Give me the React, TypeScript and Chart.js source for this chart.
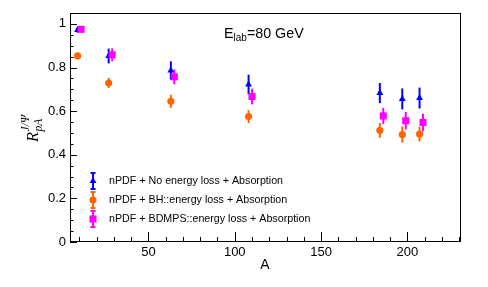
import React, { useEffect, useRef } from 'react';
import { Chart, registerables } from 'chart.js';

Chart.register(...registerables);

// ---- data ----
const massNumbers = [9, 27, 63, 108, 184, 197, 207];
const massNumbersShifted = [11, 29, 65, 110, 186, 199, 209];

const noLossValues = [0.972, 0.853, 0.786, 0.722, 0.683, 0.656, 0.66];
const noLossErrors = [0.012, 0.034, 0.042, 0.045, 0.046, 0.048, 0.048];

const bhValues = [0.853, 0.729, 0.645, 0.575, 0.512, 0.493, 0.495];
const bhErrors = [0.008, 0.023, 0.03, 0.03, 0.034, 0.037, 0.034];

const bdmpsValues = [0.975, 0.858, 0.757, 0.667, 0.578, 0.556, 0.548];
const bdmpsErrors = [0.01, 0.03, 0.034, 0.036, 0.037, 0.04, 0.04];

const seriesLabels = [
  'nPDF + No energy loss + Absorption',
  'nPDF + BH::energy loss + Absorption',
  'nPDF + BDMPS::energy loss + Absorption',
];

const xTickValues = [50, 100, 150, 200];
const yTickValues = [0, 0.2, 0.4, 0.6, 0.8, 1];

const SANS = '"Liberation Sans", Arial, Helvetica, sans-serif';
const SERIF = '"Liberation Serif", "Times New Roman", serif';

function drawMarker(ctx: CanvasRenderingContext2D, style: string, x: number, y: number, r: number) {
  ctx.beginPath();
  if (style === 'circle') {
    ctx.arc(x, y, r, 0, Math.PI * 2);
  } else if (style === 'rect') {
    const s = r * Math.SQRT1_2;
    ctx.rect(x - s, y - s, 2 * s, 2 * s);
  } else {
    ctx.moveTo(x, y - r);
    ctx.lineTo(x + r * Math.sin(Math.PI / 3), y + r * 0.5);
    ctx.lineTo(x - r * Math.sin(Math.PI / 3), y + r * 0.5);
    ctx.closePath();
  }
  ctx.fill();
}

const rootStyle = {
  id: 'rootStyle',
  beforeDatasetsDraw(chart: any) {
    const ctx = chart.ctx;
    const xs = chart.scales.x;
    const ys = chart.scales.y;
    ctx.save();
    chart.data.datasets.forEach((ds: any) => {
      ctx.strokeStyle = ds.borderColor;
      ctx.lineWidth = 2;
      ds.data.forEach((p: any, j: number) => {
        const e = ds.errors[j];
        const px = xs.getPixelForValue(p.x);
        ctx.beginPath();
        ctx.moveTo(px, ys.getPixelForValue(p.y - e));
        ctx.lineTo(px, ys.getPixelForValue(p.y + e));
        ctx.stroke();
      });
    });
    ctx.restore();
  },
  afterDraw(chart: any) {
    const ctx = chart.ctx;
    const xs = chart.scales.x;
    const ys = chart.scales.y;
    const a = chart.chartArea;
    ctx.save();
    // frame
    ctx.strokeStyle = '#000';
    ctx.lineWidth = 1;
    ctx.strokeRect(a.left + 0.5, a.top + 0.5, a.right - a.left - 1, a.bottom - a.top - 1);

    // y ticks (inside)
    ctx.beginPath();
    for (let k = 0; k <= 21; k++) {
      const v = k * 0.05;
      const py = Math.round(ys.getPixelForValue(v)) + 0.5;
      const len = k % 4 === 0 ? 7 : 3.5;
      ctx.moveTo(a.left, py);
      ctx.lineTo(a.left + len, py);
    }
    // x ticks (inside)
    for (let v = 10; v <= 230; v += 10) {
      const px = Math.round(xs.getPixelForValue(v)) + 0.5;
      const len = v % 50 === 0 ? 10 : 5;
      ctx.moveTo(px, a.bottom);
      ctx.lineTo(px, a.bottom - len);
    }
    ctx.stroke();

    // legend
    const rows = [181, 200, 219];
    const lx = 93;
    chart.data.datasets.forEach((ds: any, i: number) => {
      const y = rows[i];
      ctx.strokeStyle = ds.borderColor;
      ctx.lineWidth = 2;
      ctx.beginPath();
      ctx.moveTo(lx, y - 8);
      ctx.lineTo(lx, y + 8);
      ctx.moveTo(lx - 2.5, y - 8);
      ctx.lineTo(lx + 2.5, y - 8);
      ctx.moveTo(lx - 2.5, y + 8);
      ctx.lineTo(lx + 2.5, y + 8);
      ctx.stroke();
      ctx.fillStyle = ds.backgroundColor;
      drawMarker(ctx, ds.pointStyle, lx, y, ds.pointRadius);
      ctx.fillStyle = '#000';
      ctx.font = `10.7px ${SANS}`;
      ctx.textAlign = 'left';
      ctx.textBaseline = 'middle';
      ctx.fillText(ds.label, 109, y + 0.5);
    });

    // header text E_lab=80 GeV
    ctx.fillStyle = '#000';
    ctx.textBaseline = 'alphabetic';
    ctx.textAlign = 'left';
    let tx = 224;
    ctx.font = `14.3px ${SANS}`;
    ctx.fillText('E', tx, 37.5);
    tx += ctx.measureText('E').width;
    ctx.font = `10px ${SANS}`;
    ctx.fillText('lab', tx, 41);
    tx += ctx.measureText('lab').width;
    ctx.font = `14.3px ${SANS}`;
    ctx.fillText('=80 GeV', tx, 37.5);

    // x axis title
    ctx.font = `14px ${SANS}`;
    ctx.textAlign = 'center';
    ctx.fillText('A', 265, 268.5);

    // y axis title R_{pA}^{J/Psi}
    ctx.save();
    ctx.translate(37.5, 142);
    ctx.rotate(-Math.PI / 2);
    ctx.textAlign = 'left';
    ctx.font = `italic 16.5px ${SERIF}`;
    ctx.fillText('R', 0, 0);
    const rw = ctx.measureText('R').width;
    ctx.font = `italic 11.5px ${SERIF}`;
    ctx.fillText('pA', rw + 0.5, 4);
    ctx.fillText('J/\u03A8', rw + 0.5, -8.5);
    ctx.restore();

    ctx.restore();
  },
};

export default function App() {
  const ref = useRef<HTMLCanvasElement>(null);
  useEffect(() => {
    if (!ref.current) return;
    const mk = (xsArr: number[], ysArr: number[]) => xsArr.map((x, i) => ({ x, y: ysArr[i] }));
    const chart = new Chart(ref.current, {
      type: 'scatter',
      data: {
        datasets: [
          {
            label: seriesLabels[0],
            data: mk(massNumbers, noLossValues),
            errors: noLossErrors,
            pointStyle: 'triangle',
            pointRadius: 4,
            backgroundColor: '#0000ff',
            borderColor: '#0000ff',
            borderWidth: 0,
            order: 2,
          } as any,
          {
            label: seriesLabels[1],
            data: mk(massNumbers, bhValues),
            errors: bhErrors,
            pointStyle: 'circle',
            pointRadius: 3.6,
            backgroundColor: '#ff6600',
            borderColor: '#ff6600',
            borderWidth: 0,
            order: 1,
          } as any,
          {
            label: seriesLabels[2],
            data: mk(massNumbersShifted, bdmpsValues),
            errors: bdmpsErrors,
            pointStyle: 'rect',
            pointRadius: 5,
            backgroundColor: '#ff00ff',
            borderColor: '#ff00ff',
            borderWidth: 0,
            order: 0,
          } as any,
        ],
      },
      options: {
        animation: false,
        responsive: false,
        devicePixelRatio: 1,
        layout: { padding: { left: 0, top: 13, right: 27, bottom: 0 } },
        plugins: { legend: { display: false }, tooltip: { enabled: false }, title: { display: false } },
        scales: {
          x: {
            type: 'linear',
            min: 4.6,
            max: 231,
            grid: { display: false, drawTicks: false },
            border: { display: false },
            afterBuildTicks: (s: any) => {
              s.ticks = xTickValues.map((v) => ({ value: v }));
            },
            afterFit: (s: any) => {
              s.height = 45;
            },
            ticks: {
              color: '#000',
              font: { family: SANS, size: 13 },
              padding: 3,
              maxRotation: 0,
              callback: (v: any) => String(v),
            },
          },
          y: {
            type: 'linear',
            min: 0,
            max: 1.05,
            grid: { display: false, drawTicks: false },
            border: { display: false },
            afterBuildTicks: (s: any) => {
              s.ticks = yTickValues.map((v) => ({ value: v }));
            },
            afterFit: (s: any) => {
              s.width = 70;
            },
            ticks: {
              color: '#000',
              font: { family: SANS, size: 13 },
              padding: 4,
              callback: (v: any) => (v === 0 ? '0' : v === 1 ? '1' : Number(v).toFixed(1)),
            },
          },
        },
      } as any,
      plugins: [rootStyle],
    });
    return () => chart.destroy();
  }, []);
  return (
    <div style={{ position: 'absolute', left: 0, top: 0, width: 488, height: 287, background: '#fff' }}>
      <canvas ref={ref} width={488} height={287} style={{ width: 488, height: 287 }} />
    </div>
  );
}
